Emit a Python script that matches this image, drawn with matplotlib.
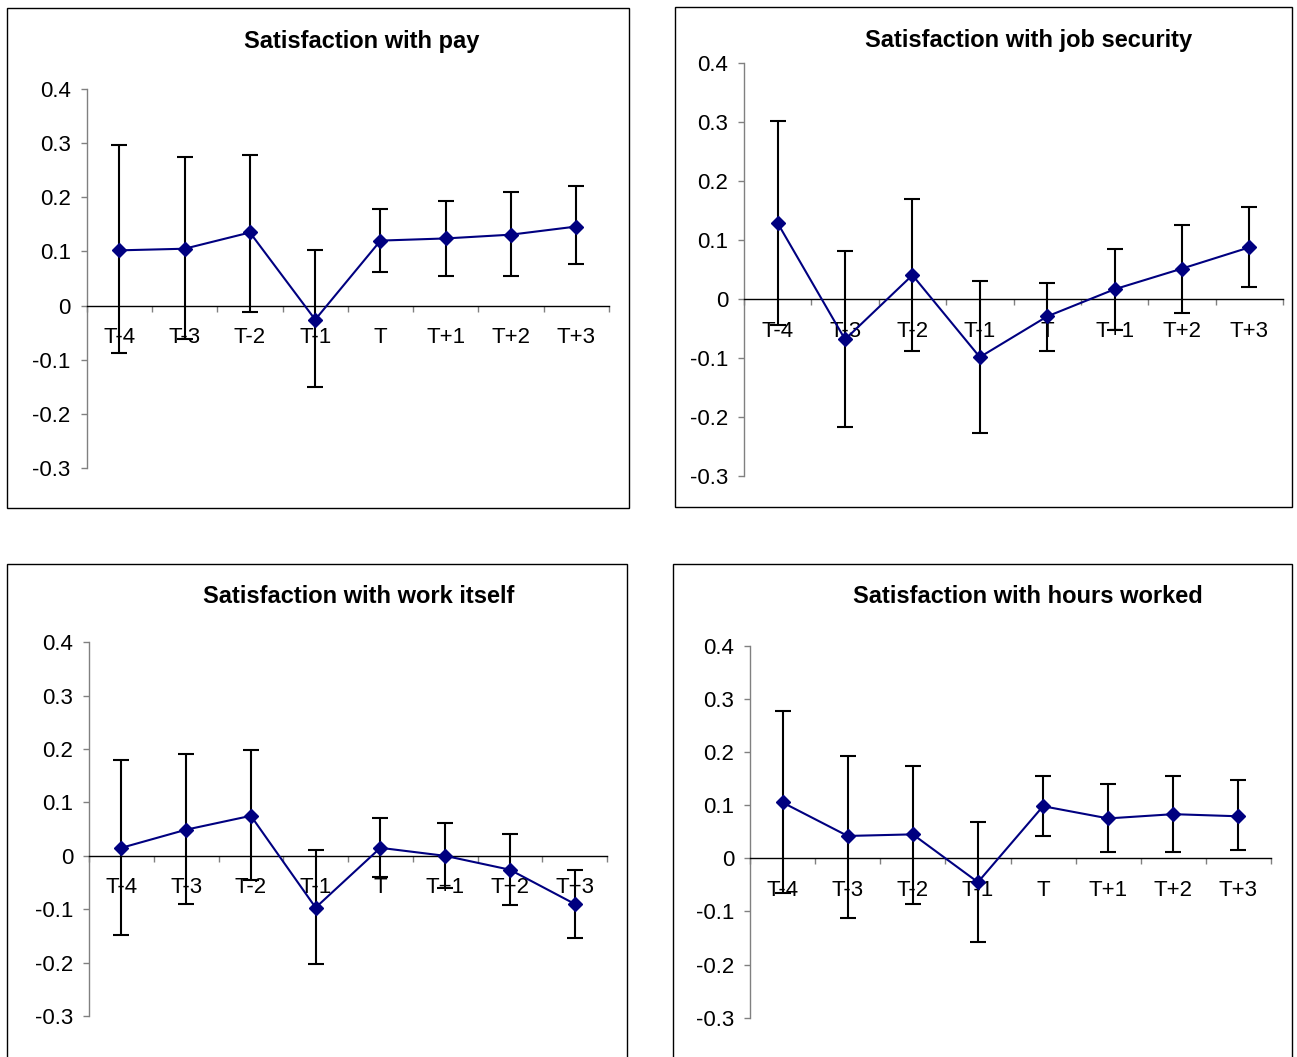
import numpy as np
import matplotlib
matplotlib.use('Agg')
import matplotlib.pyplot as plt
from matplotlib.patches import Rectangle

plt.rcParams['font.family'] = ['Liberation Sans', 'DejaVu Sans']

periods = ['T-4', 'T-3', 'T-2', 'T-1', 'T', 'T+1', 'T+2', 'T+3']
y_ticks = [-0.3, -0.2, -0.1, 0.0, 0.1, 0.2, 0.3, 0.4]
y_tick_labels = ['-0.3', '-0.2', '-0.1', '0', '0.1', '0.2', '0.3', '0.4']

# point estimates and confidence bounds
pay_mean = [0.102, 0.105, 0.135, -0.026, 0.120, 0.124, 0.131, 0.146]
pay_low = [-0.088, -0.062, -0.011, -0.151, 0.062, 0.055, 0.055, 0.077]
pay_high = [0.297, 0.275, 0.279, 0.102, 0.179, 0.194, 0.209, 0.220]

security_mean = [0.129, -0.068, 0.041, -0.098, -0.029, 0.017, 0.052, 0.088]
security_low = [-0.044, -0.216, -0.088, -0.227, -0.088, -0.052, -0.024, 0.021]
security_high = [0.302, 0.082, 0.170, 0.031, 0.028, 0.086, 0.126, 0.156]

work_mean = [0.015, 0.049, 0.075, -0.097, 0.015, 0.000, -0.026, -0.090]
work_low = [-0.149, -0.090, -0.045, -0.202, -0.039, -0.060, -0.093, -0.153]
work_high = [0.179, 0.191, 0.198, 0.011, 0.071, 0.061, 0.041, -0.026]

hours_mean = [0.105, 0.042, 0.045, -0.045, 0.098, 0.075, 0.083, 0.079]
hours_low = [-0.066, -0.113, -0.086, -0.157, 0.042, 0.012, 0.012, 0.015]
hours_high = [0.278, 0.192, 0.174, 0.068, 0.155, 0.139, 0.155, 0.147]

W, H = 1297, 1057


def px_rect(x0, y0, x1, y1):
    """Pixel box (top-left origin) -> figure fraction [l, b, w, h]."""
    return [x0 / W, 1 - y1 / H, (x1 - x0) / W, (y1 - y0) / H]


def draw_panel(fig, box, frame, title, title_xy, mean, low, high):
    # frame around the panel
    fig.patches.append(Rectangle((frame[0], frame[1]), frame[2], frame[3],
                                 transform=fig.transFigure, fill=False,
                                 edgecolor='black', lw=1.0))
    fig.text(title_xy[0] / W, 1 - title_xy[1] / H, title, ha='center',
             va='baseline', fontsize=17, fontweight='bold')

    ax = fig.add_axes(px_rect(*box))
    x = np.arange(len(periods))
    mean = np.array(mean)
    yerr = [mean - np.array(low), np.array(high) - mean]
    ax.errorbar(x, mean, yerr=yerr, fmt='none', ecolor='black',
                elinewidth=1.5, capsize=5.6, capthick=1.5, zorder=2,
                clip_on=False)
    ax.plot(x, mean, color='#000080', lw=1.5, marker='D', ms=7.3,
            zorder=3, clip_on=False)

    ax.set_xlim(-0.5, 7.5)
    ax.set_ylim(-0.3, 0.4)
    ax.set_facecolor('none')

    for side in ['top', 'right']:
        ax.spines[side].set_visible(False)
    ax.spines['left'].set_color('#808080')
    ax.spines['left'].set_linewidth(1.0)
    ax.spines['bottom'].set_position(('data', 0))
    ax.spines['bottom'].set_color('black')
    ax.spines['bottom'].set_linewidth(1.0)

    ax.set_yticks(y_ticks)
    ax.set_yticklabels(y_tick_labels, fontsize=16)
    ax.tick_params(axis='y', direction='out', length=4.3, width=1.0,
                   color='#808080', pad=7.2)

    ax.set_xticks(np.arange(-0.5, 8, 1))
    ax.set_xticklabels([])
    ax.tick_params(axis='x', which='major', direction='out', length=4,
                   width=1.0, color='#808080')
    ax.set_xticks(x, minor=True)
    ax.set_xticklabels(periods, minor=True, fontsize=16)
    ax.tick_params(axis='x', which='minor', length=0, pad=15.5)
    return ax


fig = plt.figure(figsize=(W / 100, H / 100), dpi=100)

draw_panel(fig, (86.7, 89, 609, 468), px_rect(7, 8, 629, 508),
           'Satisfaction with pay', (361.5, 48),
           pay_mean, pay_low, pay_high)
draw_panel(fig, (744, 63.3, 1283, 476.3), px_rect(675, 7, 1292, 507),
           'Satisfaction with job security', (1029, 47),
           security_mean, security_low, security_high)
draw_panel(fig, (89, 642.3, 607, 1016), px_rect(7, 564, 627, 1200),
           'Satisfaction with work itself', (359, 603),
           work_mean, work_low, work_high)
draw_panel(fig, (750, 645.7, 1271, 1017.7), px_rect(673, 564, 1292, 1200),
           'Satisfaction with hours worked', (1028, 603),
           hours_mean, hours_low, hours_high)

fig.savefig('out.png', dpi=100)
